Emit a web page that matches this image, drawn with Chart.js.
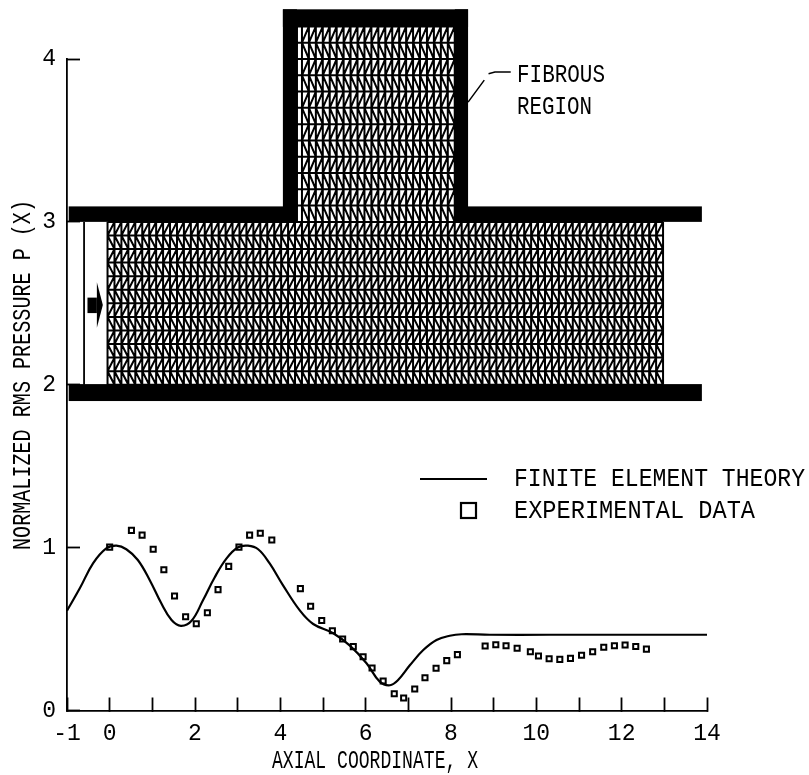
<!DOCTYPE html>
<html lang="en">
<head>
<meta charset="UTF-8">
<title>Normalized RMS pressure</title>
<script src="https://cdn.jsdelivr.net/npm/chart.js"></script>
<style>
    body { margin: 0; background: #fff; }
    canvas { display: block; }
</style>
</head>
<body>
<canvas id="chart" width="809" height="775"></canvas>
<script>
// values
const theoryX = [-1, -0.70, -0.39, -0.08, 0.16, 0.39, 0.66, 0.94, 1.21, 1.45, 1.67, 1.92, 2.19, 2.46, 2.74, 3.01, 3.24, 3.48, 3.75, 4.06, 4.46, 4.77, 5.24, 5.63, 6.02, 6.33, 6.57, 6.76, 7.04, 7.35, 7.66, 7.97, 8.25, 8.91, 10.3, 14];
const theoryY = [0.613, 0.75, 0.903, 0.995, 1.012, 0.99, 0.924, 0.80, 0.658, 0.556, 0.52, 0.551, 0.678, 0.817, 0.934, 1.002, 1.012, 0.99, 0.903, 0.77, 0.613, 0.531, 0.474, 0.398, 0.29, 0.177, 0.155, 0.187, 0.279, 0.371, 0.433, 0.459, 0.468, 0.465, 0.465, 0.465];
const expX = [0, 0.51, 0.76, 1.02, 1.27, 1.52, 1.78, 2.03, 2.29, 2.54, 2.79, 3.03, 3.28, 3.53, 3.80, 4.47, 4.71, 4.97, 5.22, 5.46, 5.71, 5.94, 6.15, 6.41, 6.67, 6.89, 7.15, 7.39, 7.65, 7.90, 8.15, 8.80, 9.05, 9.29, 9.55, 9.86, 10.05, 10.30, 10.55, 10.80, 11.06, 11.32, 11.58, 11.83, 12.08, 12.33, 12.58];
const expY = [1.003, 1.106, 1.077, 0.99, 0.864, 0.703, 0.576, 0.533, 0.60, 0.742, 0.885, 1.003, 1.077, 1.088, 1.047, 0.748, 0.64, 0.553, 0.49, 0.439, 0.392, 0.33, 0.261, 0.181, 0.103, 0.077, 0.132, 0.201, 0.259, 0.306, 0.343, 0.396, 0.404, 0.398, 0.382, 0.361, 0.335, 0.318, 0.314, 0.32, 0.339, 0.361, 0.388, 0.398, 0.402, 0.393, 0.377];
const xTickLabels = [-1, 0, 2, 4, 6, 8, 10, 12, 14];
const yTickLabels = [0, 1, 2, 3, 4];

const FONT = '"Liberation Mono", monospace';

function toPoints(xs, ys) {
    return xs.map((x, i) => ({ x: x, y: ys[i] }));
}

// label squeezed to the given width, the original lettering is narrow
function label(ctx, text, x, y, width) {
    ctx.fillText(text, x, y, width);
}

// duct, fibrous region and mesh sit behind the curves, in axis units
const ductPlugin = {
    id: 'duct',
    beforeDatasetsDraw(chart) {
        const ctx = chart.ctx;
        const sx = chart.scales.x, sy = chart.scales.y;
        const X = v => sx.getPixelForValue(v);
        const Y = v => sy.getPixelForValue(v);

        function mesh(x0, x1, y0, y1, rows) {
            const dx = 13.02 / 80;
            const dy = (y1 - y0) / rows;
            const first = Math.ceil((x0 + 0.05) / dx - 0.01);
            const last = Math.floor((x1 + 0.05) / dx + 0.01);
            ctx.beginPath();
            for (let r = 0; r <= rows; r++) {
                ctx.moveTo(X(x0), Y(y0 + r * dy));
                ctx.lineTo(X(x1), Y(y0 + r * dy));
            }
            ctx.moveTo(X(x0), Y(y0));
            ctx.lineTo(X(x0), Y(y1));
            for (let c = first; c <= last; c++) {
                const cx = -0.05 + c * dx;
                ctx.moveTo(X(cx), Y(y0));
                ctx.lineTo(X(cx), Y(y1));
                if (c === last) break;
                for (let r = 0; r < rows; r++) {
                    const up = (rows - r) % 2 === 0 ? 0 : 1;
                    const yb = y0 + r * dy;
                    ctx.moveTo(X(cx), Y(up ? yb : yb + dy));
                    ctx.lineTo(X(cx + dx), Y(up ? yb + dy : yb));
                }
            }
            ctx.stroke();
        }

        function box(x0, x1, y0, y1) {
            ctx.fillRect(X(x0), Y(y1), X(x1) - X(x0), Y(y0) - Y(y1));
        }

        ctx.save();
        ctx.strokeStyle = '#000';
        ctx.fillStyle = '#000';
        ctx.lineWidth = 2;
        mesh(-0.05, 12.97, 2.0, 3.0, 12);
        mesh(4.39, 8.09, 3.0, 4.2, 12);

        // walls
        box(-0.96, 4.39, 3.0, 3.095);
        box(8.09, 13.88, 3.0, 3.095);
        box(-0.96, 13.88, 1.9, 2.004);
        box(4.06, 4.39, 3.0, 4.305);
        box(8.09, 8.40, 3.0, 4.305);
        box(4.06, 8.40, 4.197, 4.305);

        // inlet line and arrow
        ctx.lineWidth = 1.8;
        ctx.beginPath();
        ctx.moveTo(X(-0.6), Y(3.0));
        ctx.lineTo(X(-0.6), Y(2.0));
        ctx.stroke();
        box(-0.52, -0.30, 2.44, 2.535);
        ctx.beginPath();
        ctx.moveTo(X(-0.30), Y(2.63));
        ctx.lineTo(X(-0.16), Y(2.49));
        ctx.lineTo(X(-0.30), Y(2.35));
        ctx.closePath();
        ctx.fill();

        // leader for the fibrous region
        ctx.lineWidth = 1.5;
        ctx.beginPath();
        ctx.moveTo(X(8.40), Y(3.735));
        ctx.lineTo(X(8.78), Y(3.87));
        ctx.moveTo(X(8.88), Y(3.91));
        ctx.lineTo(X(9.03), Y(3.92));
        ctx.lineTo(X(9.4), Y(3.92));
        ctx.stroke();
        ctx.restore();
    },
    afterDraw(chart) {
        const ctx = chart.ctx;
        ctx.save();
        ctx.fillStyle = '#000';
        ctx.strokeStyle = '#000';
        ctx.textBaseline = 'middle';
        ctx.textAlign = 'left';
        ctx.font = '25px ' + FONT;

        label(ctx, 'FIBROUS', 517, 75, 88);
        label(ctx, 'REGION', 517, 107, 75);
        label(ctx, 'FINITE ELEMENT THEORY', 514, 479, 291);
        label(ctx, 'EXPERIMENTAL DATA', 514, 511, 241);
        label(ctx, 'AXIAL COORDINATE, X', 272, 761, 206);

        ctx.translate(23, 550);
        ctx.rotate(-Math.PI / 2);
        label(ctx, 'NORMALIZED RMS PRESSURE P (X)', 0, 0, 350);
        ctx.setTransform(1, 0, 0, 1, 0, 0);

        // legend keys
        ctx.lineWidth = 1.8;
        ctx.beginPath();
        ctx.moveTo(420, 479);
        ctx.lineTo(487, 479);
        ctx.stroke();
        ctx.lineWidth = 2.2;
        ctx.strokeRect(461, 503, 15, 15);
        ctx.restore();
    }
};

new Chart(document.getElementById('chart'), {
    type: 'scatter',
    data: {
        datasets: [
            {
                label: 'FINITE ELEMENT THEORY',
                data: toPoints(theoryX, theoryY),
                showLine: true,
                borderColor: '#000',
                borderWidth: 2.2,
                tension: 0.4,
                pointRadius: 0
            },
            {
                label: 'EXPERIMENTAL DATA',
                data: toPoints(expX, expY),
                showLine: false,
                pointStyle: 'rect',
                pointRadius: 3.6,
                pointBorderWidth: 2,
                pointBorderColor: '#000',
                pointBackgroundColor: 'rgba(0,0,0,0)'
            }
        ]
    },
    options: {
        responsive: false,
        animation: false,
        layout: { padding: { top: 59, right: 102, left: 0, bottom: 0 } },
        plugins: { legend: { display: false }, tooltip: { enabled: false } },
        scales: {
            x: {
                type: 'linear',
                min: -1,
                max: 14,
                afterFit(scale) { scale.height = 64.5; },
                afterBuildTicks(scale) {
                    scale.ticks = [];
                    for (let v = -1; v <= 14; v++) scale.ticks.push({ value: v });
                },
                grid: { drawOnChartArea: false, tickLength: -13, tickColor: '#000', tickWidth: 1.8 },
                border: { color: '#000', width: 1.8 },
                ticks: {
                    autoSkip: false,
                    maxRotation: 0,
                    padding: 23,
                    color: '#000',
                    font: { family: FONT, size: 23 },
                    callback: v => (xTickLabels.includes(v) ? String(v) : '')
                }
            },
            y: {
                type: 'linear',
                min: 0,
                max: 4,
                afterFit(scale) { scale.width = 67; },
                grid: { drawOnChartArea: false, tickLength: -13, tickColor: '#000', tickWidth: 1.8 },
                border: { color: '#000', width: 1.8 },
                ticks: {
                    stepSize: 1,
                    padding: 24,
                    color: '#000',
                    font: { family: FONT, size: 23 },
                    callback: v => (yTickLabels.includes(v) ? String(v) : '')
                }
            }
        }
    },
    plugins: [ductPlugin]
});
</script>
</body>
</html>
